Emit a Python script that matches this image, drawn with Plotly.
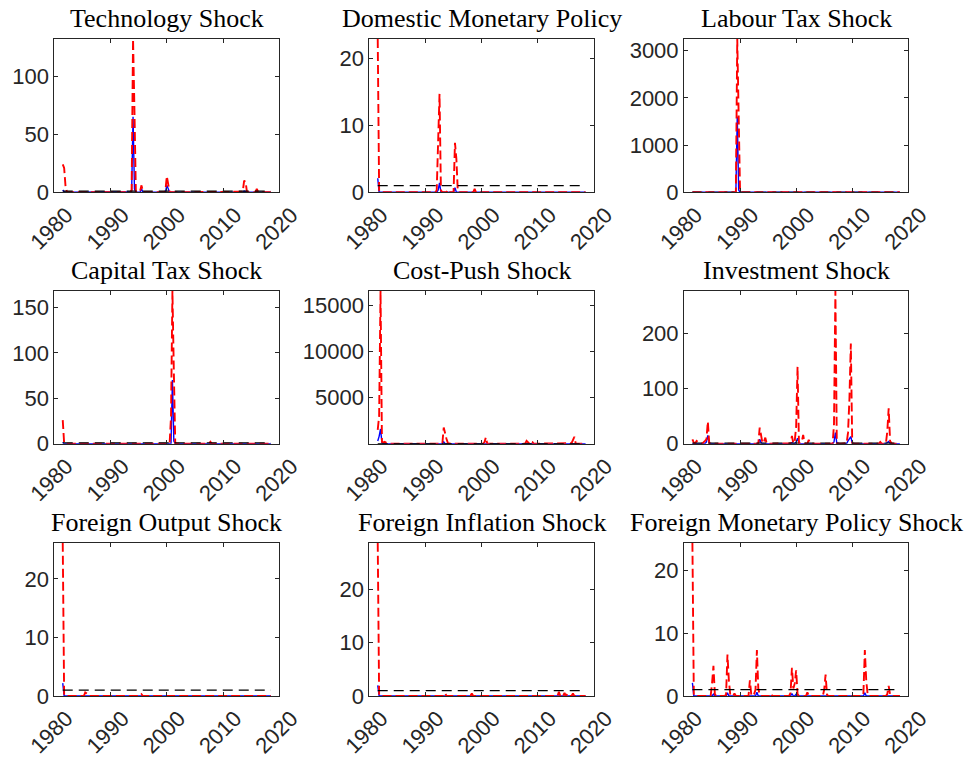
import plotly.graph_objects as go

# Quarterly observation dates, 1981Q3 .. 2018Q3 (rows below hold 16 quarters = 4 years each)
quarters = [1981.5 + 0.25 * i for i in range(149)]

threshold = 1.0

titles = [
    "Technology Shock", "Domestic Monetary Policy", "Labour Tax Shock",
    "Capital Tax Shock", "Cost-Push Shock", "Investment Shock",
    "Foreign Output Shock", "Foreign Inflation Shock", "Foreign Monetary Policy Shock",
]

# ---------------- Technology ----------------
tech_upper = [
    24, 21, 5, 0.3, 0, 0, 0, 0, 0, 0, 0, 0, 0, 0, 0, 0,          # 1981.5
    0, 0, 0, 0, 0, 0, 0, 0, 0, 0, 0, 0, 0, 0, 0, 0,              # 1985.5
    0, 0, 0, 0, 0, 0, 0, 0, 0, 0, 0, 0, 0, 0, 0, 0,              # 1989.5
    0, 2, 132, 70, 0.5, 0, 0, 1, 6, 0.5, 0, 0, 0, 0, 0, 0,       # 1993.5
    0, 0, 0, 0, 0, 0, 0, 0, 0, 1, 14, 7, 0.5, 0, 0, 0,           # 1997.5
    0, 0, 0, 0, 0, 0, 0, 0, 0, 0, 0, 0, 0, 0, 0, 0,              # 2001.5
    0, 0, 0, 0, 0, 0, 0, 0, 0, 0, 0, 0, 0, 0, 0, 0,              # 2005.5
    0, 0, 0, 0, 0, 0, 0, 0, 0, 0, 0, 0, 0, 0, 0, 0,              # 2009.5
    0.5, 10, 9, 0.3, 0, 0, 0, 0, 0, 0, 3, 0.3, 0, 0, 0, 0,       # 2013.5
    0, 0, 0, 0, 0,                                               # 2017.5
]
tech_lower = [
    2, 0.5, 0.3, 0, 0, 0, 0, 0, 0, 0, 0, 0, 0, 0, 0, 0,
    0, 0, 0, 0, 0, 0, 0, 0, 0, 0, 0, 0, 0, 0, 0, 0,
    0, 0, 0, 0, 0, 0, 0, 0, 0, 0, 0, 0, 0, 0, 0, 0,
    0, 0.5, 65, 3, 0, 0, 0, 0, 3, 0, 0, 0, 0, 0, 0, 0,
    0, 0, 0, 0, 0, 0, 0, 0, 0, 0, 6, 2, 0, 0, 0, 0,
    0, 0, 0, 0, 0, 0, 0, 0, 0, 0, 0, 0, 0, 0, 0, 0,
    0, 0, 0, 0, 0, 0, 0, 0, 0, 0, 0, 0, 0, 0, 0, 0,
    0, 0, 0, 0, 0, 0, 0, 0, 0, 0, 0, 0, 0, 0, 0, 0,
    0, 1, 0.5, 0, 0, 0, 0, 0, 0, 0, 0, 0, 0, 0, 0, 0,
    0, 0, 0, 0, 0,
]

# ---------------- Domestic monetary policy ----------------
dmp_upper = [
    22.9, 0.3, 0, 0, 0, 0, 0, 0, 0, 0, 0, 0, 0, 0, 0, 0,
    0, 0, 0, 0, 0, 0, 0, 0, 0, 0, 0, 0, 0, 0, 0, 0,
    0, 0, 0, 0, 0, 0, 0, 0, 0, 0, 0.3, 9, 14.7, 0.3, 0, 0,
    0, 0, 0.4, 0, 0, 0, 0, 7.4, 5, 0.2, 0, 0, 0, 0, 0, 0,
    0, 0, 0, 0, 0, 0.5, 0, 0, 0, 0, 0, 0, 0, 0, 0, 0,
    0, 0, 0, 0, 0, 0, 0, 0, 0, 0, 0, 0, 0, 0, 0, 0,
    0, 0, 0, 0, 0, 0, 0, 0, 0, 0, 0, 0, 0, 0, 0, 0,
    0, 0, 0, 0, 0, 0, 0, 0, 0, 0, 0, 0, 0, 0, 0, 0,
    0, 0, 0, 0, 0, 0, 0, 0, 0, 0, 0, 0, 0, 0, 0, 0,
    0, 0, 0, 0, 0,
]
dmp_lower = [
    2.1, 0, 0, 0, 0, 0, 0, 0, 0, 0, 0, 0, 0, 0, 0, 0,
    0, 0, 0, 0, 0, 0, 0, 0, 0, 0, 0, 0, 0, 0, 0, 0,
    0, 0, 0, 0, 0, 0, 0, 0, 0, 0, 0, 0.3, 1.4, 0, 0, 0,
    0, 0, 0, 0, 0, 0, 0, 0.7, 0, 0, 0, 0, 0, 0, 0, 0,
    0, 0, 0, 0, 0, 0, 0, 0, 0, 0, 0, 0, 0, 0, 0, 0,
    0, 0, 0, 0, 0, 0, 0, 0, 0, 0, 0, 0, 0, 0, 0, 0,
    0, 0, 0, 0, 0, 0, 0, 0, 0, 0, 0, 0, 0, 0, 0, 0,
    0, 0, 0, 0, 0, 0, 0, 0, 0, 0, 0, 0, 0, 0, 0, 0,
    0, 0, 0, 0, 0, 0, 0, 0, 0, 0, 0, 0, 0, 0, 0, 0,
    0, 0, 0, 0, 0,
]

# ---------------- Labour tax ----------------
lab_upper = [
    0, 0, 0, 0, 0, 0, 0, 0, 0, 0, 0, 0, 0, 0, 0, 0,
    0, 0, 0, 0, 0, 0, 0, 0, 0, 0, 0, 0, 0, 0, 0, 5,
    3250, 1500, 2, 0, 0, 0, 0, 0, 0, 0, 0, 0, 0, 0, 0, 0,
    0, 0, 0, 0, 0, 0, 0, 0, 0, 0, 0, 0, 0, 0, 0, 0,
    0, 0, 0, 0, 0, 0, 0, 0, 0, 0, 0, 0, 0, 0, 0, 0,
    0, 0, 0, 0, 0, 0, 0, 0, 0, 0, 0, 0, 0, 0, 0, 0,
    0, 0, 0, 0, 0, 0, 0, 0, 0, 0, 0, 0, 0, 0, 0, 0,
    0, 0, 0, 0, 0, 0, 0, 0, 0, 0, 0, 0, 0, 0, 0, 0,
    0, 0, 0, 0, 0, 0, 0, 0, 0, 0, 0, 0, 0, 0, 0, 0,
    0, 0, 0, 0, 0,
]
lab_lower = [
    0, 0, 0, 0, 0, 0, 0, 0, 0, 0, 0, 0, 0, 0, 0, 0,
    0, 0, 0, 0, 0, 0, 0, 0, 0, 0, 0, 0, 0, 0, 0, 0,
    1600, 50, 0, 0, 0, 0, 0, 0, 0, 0, 0, 0, 0, 0, 0, 0,
    0, 0, 0, 0, 0, 0, 0, 0, 0, 0, 0, 0, 0, 0, 0, 0,
    0, 0, 0, 0, 0, 0, 0, 0, 0, 0, 0, 0, 0, 0, 0, 0,
    0, 0, 0, 0, 0, 0, 0, 0, 0, 0, 0, 0, 0, 0, 0, 0,
    0, 0, 0, 0, 0, 0, 0, 0, 0, 0, 0, 0, 0, 0, 0, 0,
    0, 0, 0, 0, 0, 0, 0, 0, 0, 0, 0, 0, 0, 0, 0, 0,
    0, 0, 0, 0, 0, 0, 0, 0, 0, 0, 0, 0, 0, 0, 0, 0,
    0, 0, 0, 0, 0,
]

# ---------------- Capital tax ----------------
cap_upper = [
    26, 0.5, 0, 0, 0, 0, 0, 0, 0, 0, 0, 0, 0, 0, 0, 0,
    0, 0, 0, 0, 0, 0, 0, 0, 0, 0, 0, 0, 0, 0, 0, 0,
    0, 0, 0, 0, 0, 0, 0, 0, 0, 0, 0, 0, 0, 0, 0, 0,
    0, 0, 0, 0, 0, 0, 0, 0, 0, 0, 0, 0, 0, 0, 0, 0,
    0, 0, 0, 0, 0, 0, 0, 0, 0, 0, 0, 0, 0, 30, 168, 80,
    0.5, 0, 0, 0, 0, 0, 0, 0, 0, 0, 0, 0, 0, 0, 0, 0,
    0, 0, 0, 0, 0, 0, 0, 0, 0, 2, 0, 0, 0, 0, 0, 0,
    0, 0, 0, 0, 0, 0, 0, 0, 0, 0, 0, 0, 0, 0, 0, 0,
    0, 0, 0, 0, 0, 0, 0, 0, 0, 0, 0, 0, 0, 0, 0, 0,
    0, 0, 0, 0, 0,
]
cap_lower = [
    1.5, 0, 0, 0, 0, 0, 0, 0, 0, 0, 0, 0, 0, 0, 0, 0,
    0, 0, 0, 0, 0, 0, 0, 0, 0, 0, 0, 0, 0, 0, 0, 0,
    0, 0, 0, 0, 0, 0, 0, 0, 0, 0, 0, 0, 0, 0, 0, 0,
    0, 0, 0, 0, 0, 0, 0, 0, 0, 0, 0, 0, 0, 0, 0, 0,
    0, 0, 0, 0, 0, 0, 0, 0, 0, 0, 0, 0, 0, 0, 70, 3,
    0, 0, 0, 0, 0, 0, 0, 0, 0, 0, 0, 0, 0, 0, 0, 0,
    0, 0, 0, 0, 0, 0, 0, 0, 0, 0, 0, 0, 0, 0, 0, 0,
    0, 0, 0, 0, 0, 0, 0, 0, 0, 0, 0, 0, 0, 0, 0, 0,
    0, 0, 0, 0, 0, 0, 0, 0, 0, 0, 0, 0, 0, 0, 0, 0,
    0, 0, 0, 0, 0,
]

# ---------------- Cost-push ----------------
cp_upper = [
    1500, 3000, 16600, 200, 150, 200, 100, 50, 0, 0, 0, 0, 0, 0, 0, 0,
    0, 0, 0, 0, 0, 0, 0, 0, 0, 0, 0, 0, 0, 0, 0, 0,
    0, 0, 0, 0, 0, 0, 0, 0, 0, 0, 0, 0, 0, 0, 0, 1750,
    1000, 500, 50, 0, 0, 0, 0, 0, 0, 0, 0, 0, 0, 0, 0, 0,
    0, 0, 0, 0, 0, 0, 0, 0, 0, 0, 0, 0, 150, 700, 0, 0,
    0, 0, 0, 0, 0, 0, 0, 0, 0, 0, 0, 0, 0, 0, 0, 0,
    0, 0, 0, 0, 0, 0, 0, 0, 0, 0, 300, 100, 0, 250, 200, 0,
    0, 0, 0, 0, 0, 0, 0, 0, 0, 0, 0, 0, 0, 0, 0, 0,
    0, 0, 0, 0, 0, 0, 0, 0, 0, 0, 50, 400, 750, 0, 0, 0,
    0, 0, 0, 0, 0,
]
cp_lower = [
    300, 800, 1600, 100, 0, 0, 0, 0, 0, 0, 0, 0, 0, 0, 0, 0,
    0, 0, 0, 0, 0, 0, 0, 0, 0, 0, 0, 0, 0, 0, 0, 0,
    0, 0, 0, 0, 0, 0, 0, 0, 0, 0, 0, 0, 0, 0, 0, 200,
    0, 0, 0, 0, 0, 0, 0, 0, 0, 0, 0, 0, 0, 0, 0, 0,
    0, 0, 0, 0, 0, 0, 0, 0, 0, 0, 0, 0, 0, 0, 0, 0,
    0, 0, 0, 0, 0, 0, 0, 0, 0, 0, 0, 0, 0, 0, 0, 0,
    0, 0, 0, 0, 0, 0, 0, 0, 0, 0, 0, 0, 0, 0, 0, 0,
    0, 0, 0, 0, 0, 0, 0, 0, 0, 0, 0, 0, 0, 0, 0, 0,
    0, 0, 0, 0, 0, 0, 0, 0, 0, 0, 0, 0, 0, 0, 0, 0,
    0, 0, 0, 0, 0,
]

# ---------------- Investment ----------------
inv_upper = [
    8, 2, 1, 5, 3, 1, 0.5, 0, 2, 5, 8, 40, 1, 0, 0, 0,
    0, 0, 0, 0, 0, 0, 0, 0, 0, 0, 0, 0, 0, 0, 0, 0,
    0, 0, 0, 0, 0, 0, 0, 0, 0, 0, 0, 0, 0, 0, 0, 0,
    29, 12, 1, 3, 11, 0, 0, 0, 0, 0, 0, 0, 0, 0, 0, 0,
    0, 0, 0, 0, 0, 0, 1, 14, 0.5, 5, 31, 139, 1, 2, 3, 16,
    1, 0, 0, 7, 0.5, 0, 0, 0, 0, 0, 0, 0, 0, 0, 0, 0,
    0, 0, 0, 0, 0, 35, 276, 1, 0, 0, 0, 0, 0, 0, 1, 20,
    80, 181, 1, 0, 0, 0, 0, 0, 0, 0, 0, 0, 0, 0, 0, 0,
    0, 0, 0, 0, 0, 0, 3, 0, 0, 0, 0, 22, 64, 5, 1, 0,
    0, 0, 0, 0, 0,
]
inv_lower = [
    0, 0, 0, 0, 0, 0, 0, 0, 0, 0, 3, 15, 1, 0, 0, 0,
    0, 0, 0, 0, 0, 0, 0, 0, 0, 0, 0, 0, 0, 0, 0, 0,
    0, 0, 0, 0, 0, 0, 0, 0, 0, 0, 0, 0, 0, 0, 0, 0,
    8, 2, 0, 0, 0, 0, 0, 0, 0, 0, 0, 0, 0, 0, 0, 0,
    0, 0, 0, 0, 0, 0, 0, 2, 0, 0, 3, 10, 1, 0, 0, 0,
    0, 0, 0, 0, 0, 0, 0, 0, 0, 0, 0, 0, 0, 0, 0, 0,
    0, 0, 0, 0, 0, 3, 20, 1, 0, 0, 0, 0, 0, 0, 0, 5,
    10, 13, 1, 0, 0, 0, 0, 0, 0, 0, 0, 0, 0, 0, 0, 0,
    0, 0, 0, 0, 0, 0, 0, 0, 0, 0, 0, 2, 4, 0, 0, 0,
    0, 0, 0, 0, 0,
]

# ---------------- Foreign output ----------------
fo_upper = [
    26.2, 0.2, 0, 0, 0, 0, 0, 0, 0, 0, 0, 0, 0, 0, 0, 0,
    0.6, 0.5, 0.3, 0, 0, 0, 0, 0, 0, 0, 0, 0, 0, 0, 0, 0,
    0, 0, 0, 0, 0, 0, 0, 0, 0, 0, 0, 0, 0, 0, 0, 0,
    0, 0, 0, 0, 0, 0, 0, 0, 0.3, 0, 0, 0, 0, 0, 0, 0,
    0, 0, 0, 0, 0, 0, 0, 0, 0, 0, 0, 0, 0, 0, 0, 0,
    0, 0, 0, 0, 0, 0, 0, 0, 0, 0, 0, 0, 0, 0, 0, 0,
    0, 0, 0, 0, 0, 0, 0, 0, 0, 0, 0, 0, 0, 0, 0, 0,
    0, 0, 0, 0, 0, 0, 0, 0, 0, 0, 0, 0, 0, 0, 0, 0,
    0, 0, 0, 0, 0, 0, 0, 0, 0, 0, 0, 0, 0, 0, 0, 0,
    0, 0, 0, 0, 0,
]
fo_lower = [
    2.2, 0, 0, 0, 0, 0, 0, 0, 0, 0, 0, 0, 0, 0, 0, 0,
    0, 0, 0, 0, 0, 0, 0, 0, 0, 0, 0, 0, 0, 0, 0, 0,
    0, 0, 0, 0, 0, 0, 0, 0, 0, 0, 0, 0, 0, 0, 0, 0,
    0, 0, 0, 0, 0, 0, 0, 0, 0, 0, 0, 0, 0, 0, 0, 0,
    0, 0, 0, 0, 0, 0, 0, 0, 0, 0, 0, 0, 0, 0, 0, 0,
    0, 0, 0, 0, 0, 0, 0, 0, 0, 0, 0, 0, 0, 0, 0, 0,
    0, 0, 0, 0, 0, 0, 0, 0, 0, 0, 0, 0, 0, 0, 0, 0,
    0, 0, 0, 0, 0, 0, 0, 0, 0, 0, 0, 0, 0, 0, 0, 0,
    0, 0, 0, 0, 0, 0, 0, 0, 0, 0, 0, 0, 0, 0, 0, 0,
    0, 0, 0, 0, 0,
]

# ---------------- Foreign inflation ----------------
fi_upper = [
    28.7, 0.2, 0, 0, 0, 0, 0, 0, 0, 0, 0, 0, 0, 0, 0, 0,
    0, 0, 0, 0, 0, 0, 0, 0, 0, 0, 0, 0, 0, 0, 0, 0,
    0, 0, 0, 0, 0, 0, 0, 0, 0, 0, 0, 0, 0, 0, 0, 0,
    0.5, 0, 0, 0, 0, 0, 0, 0, 0, 0, 0, 0, 0, 0, 0, 0,
    0, 0, 0, 0.5, 0, 0, 0, 0, 0, 0, 0, 0, 0, 0, 0, 0,
    0, 0, 0, 0, 0, 0, 0, 0, 0, 0, 0, 0, 0, 0, 0, 0,
    0, 0, 0, 0, 0, 0, 0, 0, 0, 0, 0, 0, 0, 0, 0, 0,
    0, 0, 0, 0, 0, 0, 0, 0, 0, 0, 0, 0, 0, 0, 0, 0,
    0, 0.8, 0, 0.3, 0, 0.6, 0, 0.4, 0, 0, 0, 0.5, 0, 0, 0, 0,
    0, 0, 0, 0, 0,
]
fi_lower = [
    2.0, 0, 0, 0, 0, 0, 0, 0, 0, 0, 0, 0, 0, 0, 0, 0,
    0, 0, 0, 0, 0, 0, 0, 0, 0, 0, 0, 0, 0, 0, 0, 0,
    0, 0, 0, 0, 0, 0, 0, 0, 0, 0, 0, 0, 0, 0, 0, 0,
    0, 0, 0, 0, 0, 0, 0, 0, 0, 0, 0, 0, 0, 0, 0, 0,
    0, 0, 0, 0, 0, 0, 0, 0, 0, 0, 0, 0, 0, 0, 0, 0,
    0, 0, 0, 0, 0, 0, 0, 0, 0, 0, 0, 0, 0, 0, 0, 0,
    0, 0, 0, 0, 0, 0, 0, 0, 0, 0, 0, 0, 0, 0, 0, 0,
    0, 0, 0, 0, 0, 0, 0, 0, 0, 0, 0, 0, 0, 0, 0, 0,
    0, 0, 0, 0, 0, 0, 0, 0, 0, 0, 0, 0, 0, 0, 0, 0,
    0, 0, 0, 0, 0,
]

# ---------------- Foreign monetary policy ----------------
fmp_upper = [
    24.4, 0.2, 0, 0, 0, 0, 0, 0, 0, 0, 0, 0, 0, 0, 2, 4.8,
    0.3, 0, 0, 0, 0, 0, 0, 0, 0.2, 6.6, 2.5, 0.2, 0, 0, 0.4, 0,
    0, 0, 0, 0, 0, 0, 0, 0, 0, 2.5, 0.2, 0, 0.3, 1, 7.3, 1.2,
    0.2, 0, 0, 0, 0, 0, 0, 0, 0.4, 0, 0, 0, 0, 0, 0, 0,
    0, 0, 0, 0, 0, 0, 0.5, 4.5, 1.2, 2, 4.1, 0.3, 0, 0, 0, 0,
    0, 0, 0.6, 0, 0, 0, 0, 0, 0, 0, 0, 0, 0, 0, 1, 3.4,
    0.2, 0, 0, 0, 0, 0, 0, 0, 0, 0, 0, 0, 0, 0, 0, 0,
    0, 0, 0, 0, 0, 0, 0, 0, 0, 0, 0.5, 7.3, 2.5, 0.2, 0, 0,
    0, 0, 0, 0, 0, 0, 0, 0, 0, 0, 0, 0.3, 1.6, 0.2, 0, 0,
    0, 0, 0, 0, 0,
]
fmp_lower = [
    2.1, 0, 0, 0, 0, 0, 0, 0, 0, 0, 0, 0, 0, 0, 0, 0.3,
    0, 0, 0, 0, 0, 0, 0, 0, 0, 0.5, 0, 0, 0, 0, 0, 0,
    0, 0, 0, 0, 0, 0, 0, 0, 0, 0, 0, 0, 0, 0, 0.6, 0,
    0, 0, 0, 0, 0, 0, 0, 0, 0, 0, 0, 0, 0, 0, 0, 0,
    0, 0, 0, 0, 0, 0, 0, 0.4, 0, 0, 0.3, 0, 0, 0, 0, 0,
    0, 0, 0, 0, 0, 0, 0, 0, 0, 0, 0, 0, 0, 0, 0, 0,
    0, 0, 0, 0, 0, 0, 0, 0, 0, 0, 0, 0, 0, 0, 0, 0,
    0, 0, 0, 0, 0, 0, 0, 0, 0, 0, 0, 0.5, 0, 0, 0, 0,
    0, 0, 0, 0, 0, 0, 0, 0, 0, 0, 0, 0, 0, 0, 0, 0,
    0, 0, 0, 0, 0,
]

upper_series = [tech_upper, dmp_upper, lab_upper, cap_upper, cp_upper,
                inv_upper, fo_upper, fi_upper, fmp_upper]
lower_series = [tech_lower, dmp_lower, lab_lower, cap_lower, cp_lower,
                inv_lower, fo_lower, fi_lower, fmp_lower]
y_ticks = [
    [0, 50, 100], [0, 10, 20], [0, 1000, 2000, 3000],
    [0, 50, 100, 150], [5000, 10000, 15000], [0, 100, 200],
    [0, 10, 20], [0, 10, 20], [0, 10, 20],
]
x_ticks = [1980, 1990, 2000, 2010, 2020]

for s in upper_series + lower_series:
    if len(s) != len(quarters):
        raise ValueError("series length %d != %d" % (len(s), len(quarters)))

# ---- page geometry (pixels) ----
W, H = 971, 757
col_px = [(54.3, 279.3), (369.3, 594.0), (684.0, 908.3)]
row_px = [(39.0, 192.3), (291.0, 443.7), (542.7, 696.0)]

AXIS_COLOR = "#262626"
TICK_FONT = dict(family="Liberation Sans, Arial, sans-serif", size=22, color=AXIS_COLOR)
TITLE_FONT = dict(family="Liberation Serif, Times New Roman, serif", size=26, color="#000000")

fig = go.Figure()
layout = dict(
    width=W, height=H, margin=dict(l=0, r=0, t=0, b=0, autoexpand=False),
    paper_bgcolor="white", plot_bgcolor="white", showlegend=False,
)
annotations = []

for k in range(9):
    r, c = divmod(k, 3)
    n = k + 1
    xa, ya = ("x" if n == 1 else "x%d" % n), ("y" if n == 1 else "y%d" % n)
    x0, x1 = col_px[c]
    top, bot = row_px[r]

    fig.add_trace(go.Scatter(
        x=quarters, y=lower_series[k], mode="lines", xaxis=xa, yaxis=ya,
        line=dict(color="#0000FF", width=1.4), hoverinfo="skip",
    ))
    fig.add_trace(go.Scatter(
        x=quarters, y=upper_series[k], mode="lines", xaxis=xa, yaxis=ya,
        line=dict(color="#FF0000", width=1.9, dash="9px,4px"), hoverinfo="skip",
    ))
    fig.add_trace(go.Scatter(
        x=[quarters[0], quarters[-1]], y=[threshold, threshold], mode="lines",
        xaxis=xa, yaxis=ya, line=dict(color="#000000", width=1.2, dash="10px,6px"),
        hoverinfo="skip",
    ))

    common = dict(
        showline=True, linecolor=AXIS_COLOR, linewidth=1, mirror="allticks",
        ticks="inside", ticklen=4, tickwidth=1, tickcolor=AXIS_COLOR,
        showgrid=False, zeroline=False, tickfont=TICK_FONT, fixedrange=True,
        automargin=False,
    )
    layout["xaxis" if n == 1 else "xaxis%d" % n] = dict(
        domain=[x0 / W, x1 / W], anchor=ya, range=[1980, 2020],
        tickmode="array", tickvals=x_ticks, ticktext=[str(t) for t in x_ticks],
        tickangle=-45, ticklabelshift=12, ticklabelstandoff=0, **common,
    )
    layout["yaxis" if n == 1 else "yaxis%d" % n] = dict(
        domain=[1 - bot / H, 1 - top / H], anchor=xa,
        range=[0, max(upper_series[k])],
        tickmode="array", tickvals=y_ticks[k], ticktext=[str(t) for t in y_ticks[k]],
        **common,
    )
    annotations.append(dict(
        text=titles[k], x=(x0 + x1) / 2 / W, y=1 - top / H, xref="paper", yref="paper",
        xanchor="center", yanchor="bottom", yshift=4, showarrow=False, font=TITLE_FONT,
    ))

layout["annotations"] = annotations
fig.update_layout(**layout)
fig.write_html("out.html", config={"displayModeBar": False})
